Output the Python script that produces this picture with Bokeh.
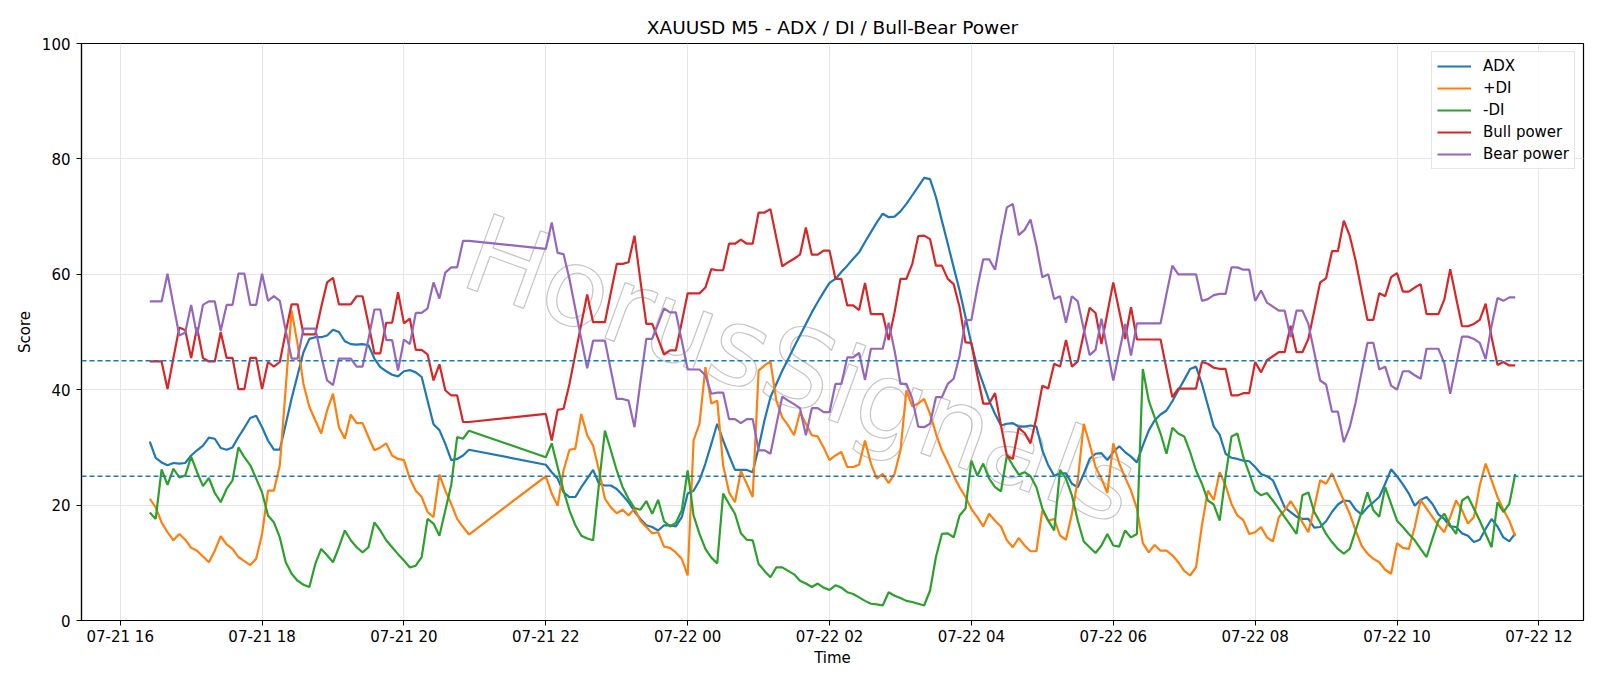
import pandas as pd
from bokeh.plotting import figure
from bokeh.models import (ColumnDataSource, Range1d, FixedTicker, DatetimeTickFormatter,
                          Span, Legend, LegendItem, Label)
from bokeh.embed import file_html
from bokeh.resources import INLINE

# 5-minute bars; the feed pauses between 20:55 and 22:00
session_1 = pd.date_range("2025-07-21 16:25", "2025-07-21 20:55", freq="5min")
session_2 = pd.date_range("2025-07-21 22:00", "2025-07-22 11:40", freq="5min")
time = session_1.append(session_2)

adx = [
    31.0, 28.2, 27.4, 26.9, 27.3, 27.2, 27.3, 28.6, 29.5, 30.3,
    31.7, 31.5, 29.9, 29.6, 30.0, 31.8, 33.4, 35.1, 35.5, 33.5,
    31.2, 29.6, 29.6, 34.0, 38.5, 42.5, 46.5, 48.8, 49.1, 49.1,
    49.4, 50.4, 50.0, 48.4, 47.9, 47.8, 47.9, 47.7, 45.4, 43.9,
    43.2, 42.6, 42.3, 43.2, 43.4, 43.0, 42.2, 38.1, 34.0, 33.0,
    30.6, 27.8, 28.0, 28.6, 29.6,
    27.0, 25.7, 24.6, 22.2, 21.4, 21.4, 23.1, 24.6, 26.1, 23.7,
    23.4, 23.4, 22.8, 21.7, 20.5, 18.9, 17.6, 16.5, 16.2, 15.6,
    16.5, 16.5, 16.3, 17.9, 22.0, 22.5, 24.3, 27.2, 30.6, 34.1,
    31.2, 28.6, 26.1, 26.1, 26.1, 25.7, 30.0, 34.7, 38.7, 41.0,
    43.3, 45.3, 47.4, 49.4, 51.4, 53.4, 55.2, 56.9, 58.5, 59.2,
    60.4, 61.5, 62.7, 63.8, 65.6, 67.3, 69.0, 70.5, 69.9, 70.0,
    70.9, 72.2, 73.7, 75.2, 76.7, 76.5, 73.4, 69.3, 65.3, 61.2,
    57.2, 52.6, 47.9, 43.9, 41.0, 38.1, 35.8, 33.8, 34.1, 34.2,
    33.6, 33.6, 33.8, 33.6, 29.5, 26.9, 25.1, 25.5, 25.5, 23.7,
    23.1, 25.4, 28.0, 28.9, 29.0, 27.8, 29.2, 30.2, 29.2, 28.4,
    27.4, 30.3, 32.9, 34.7, 35.7, 36.4, 38.0, 39.9, 41.7, 43.6,
    44.0, 41.0, 37.3, 33.6, 32.2, 28.9, 28.2, 28.0, 27.7, 27.6,
    26.6, 25.4, 25.0, 24.3, 22.0, 19.6, 18.8, 18.0, 17.6, 17.6,
    16.1, 16.2, 17.2, 18.8, 20.1, 20.8, 20.7, 19.2, 18.4, 19.6,
    20.5, 21.4, 23.7, 26.2, 25.0, 23.6, 22.0, 19.9, 20.9, 21.4,
    20.2, 18.4, 17.6, 16.3, 16.2, 15.1, 14.7, 13.6, 14.0, 15.9,
    17.6, 16.3, 14.4, 13.7, 15.1,
]

plus_di = [
    21.1, 19.6, 17.0, 15.3, 13.9, 15.0, 14.0, 12.6, 12.1, 11.1,
    10.1, 12.1, 14.6, 13.2, 12.4, 11.0, 10.3, 9.6, 10.7, 15.0,
    22.5, 22.5, 26.9, 40.3, 53.7, 47.9, 41.0, 37.0, 34.7, 32.4,
    36.4, 39.3, 33.5, 31.5, 35.7, 34.2, 34.2, 31.8, 29.5, 30.0,
    30.7, 28.6, 28.0, 27.8, 24.6, 22.5, 21.4, 18.8, 17.9, 25.3,
    22.5, 20.2, 17.6, 16.2, 14.9,
    25.0, 22.0, 19.9, 26.0, 29.6, 29.8, 35.8, 32.1, 30.3, 26.0,
    21.1, 19.6, 18.6, 19.2, 18.2, 19.4, 17.3, 16.2, 15.1, 15.3,
    12.8, 12.6, 11.8, 10.7, 7.8, 31.2, 34.1, 43.9, 37.6, 38.1,
    26.9, 22.2, 20.5, 25.9, 23.7, 21.4, 43.3, 44.2, 44.9, 38.1,
    35.2, 33.8, 32.1, 36.1, 34.1, 32.1, 31.9, 30.0, 27.8, 28.6,
    29.2, 26.6, 26.6, 27.0, 31.2, 27.2, 24.6, 25.4, 23.8, 25.4,
    29.5, 39.9, 37.1, 37.6, 38.4, 35.8, 32.4, 29.5, 27.4, 25.1,
    23.1, 21.4, 19.3, 17.9, 16.3, 18.5, 17.3, 16.3, 13.9, 12.7,
    14.3, 13.0, 12.0, 12.0, 19.1, 17.3, 17.6, 14.7, 14.0, 18.5,
    24.3, 34.1, 30.6, 26.6, 24.6, 22.1, 30.7, 27.2, 24.8, 22.5,
    19.4, 13.4, 11.8, 13.1, 12.1, 12.1, 11.3, 10.1, 8.6, 7.8,
    9.2, 16.5, 22.5, 20.9, 25.7, 23.4, 20.2, 18.2, 17.4, 15.0,
    15.3, 16.2, 14.4, 13.7, 17.9, 19.1, 20.7, 19.1, 17.0, 15.3,
    19.6, 24.3, 23.7, 25.5, 23.1, 20.8, 18.5, 15.6, 13.0, 11.6,
    10.7, 10.1, 8.8, 8.1, 13.4, 12.6, 12.4, 16.2, 20.9, 19.4,
    17.9, 16.5, 15.3, 17.9, 20.8, 19.1, 16.8, 17.9, 23.4, 27.2,
    24.3, 21.4, 19.2, 17.3, 14.6,
]

minus_di = [
    18.7, 17.6, 26.2, 23.5, 26.3, 24.8, 25.1, 28.4, 25.7, 23.3,
    24.7, 22.1, 20.5, 22.8, 24.3, 30.0, 28.3, 26.9, 24.6, 22.2,
    18.2, 17.0, 14.4, 10.1, 8.1, 6.9, 6.2, 5.8, 9.8, 12.4,
    11.3, 10.1, 12.7, 15.6, 13.9, 12.7, 11.8, 12.7, 17.0, 15.6,
    13.9, 12.7, 11.5, 10.4, 9.2, 9.5, 11.0, 17.6, 16.8, 14.7,
    19.1, 23.5, 31.8, 31.5, 32.9,
    28.3, 30.7, 26.6, 22.5, 19.1, 16.5, 14.7, 14.2, 13.9, 23.7,
    32.9, 29.5, 26.0, 23.1, 21.1, 19.5, 19.2, 20.7, 18.5, 20.9,
    17.2, 16.3, 16.9, 19.1, 26.0, 18.2, 15.0, 12.4, 10.9, 9.9,
    22.0, 20.2, 18.5, 15.1, 14.0, 13.9, 9.8, 8.6, 7.5, 9.2,
    9.2, 8.6, 8.0, 6.9, 6.4, 5.8, 6.4, 5.7, 5.3, 6.1,
    5.7, 4.9, 4.6, 4.0, 3.4, 2.9, 2.8, 2.6, 4.9, 4.3,
    3.9, 3.4, 3.2, 2.9, 2.6, 5.2, 11.0, 15.0, 15.1, 14.4,
    18.2, 19.4, 27.7, 25.1, 27.2, 24.6, 23.1, 22.4, 28.6, 26.9,
    25.3, 25.7, 25.0, 23.1, 19.4, 17.3, 15.6, 26.1, 24.6, 21.7,
    17.3, 13.7, 12.7, 11.7, 13.0, 15.0, 13.0, 12.8, 15.6, 14.4,
    15.0, 43.6, 38.1, 35.2, 32.4, 28.9, 33.4, 32.4, 31.9, 29.2,
    26.0, 23.7, 20.8, 20.1, 17.3, 25.0, 31.9, 32.4, 28.3, 25.5,
    22.5, 21.7, 22.1, 20.8, 19.4, 17.9, 16.5, 15.0, 21.7, 22.2,
    18.8, 17.0, 15.0, 13.6, 12.4, 11.6, 12.4, 15.6, 18.8, 22.2,
    19.1, 18.0, 23.1, 20.2, 17.3, 16.2, 15.0, 13.9, 12.4, 11.0,
    14.2, 17.3, 18.5, 16.5, 15.0, 20.8, 21.5, 19.4, 17.3, 15.0,
    12.7, 20.5, 18.8, 20.2, 25.4,
]

bull_power = [
    44.9, 44.9, 44.9, 40.1, 45.5, 50.8, 50.3, 45.5, 50.8, 45.5,
    44.9, 44.9, 50.0, 45.5, 45.5, 40.1, 40.1, 45.5, 45.5, 40.1,
    44.8, 44.0, 44.8, 50.0, 54.8, 54.8, 49.6, 49.6, 49.6, 54.3,
    58.6, 59.4, 54.8, 54.8, 54.8, 56.2, 56.2, 51.4, 46.3, 46.3,
    51.6, 51.6, 56.9, 51.5, 52.3, 46.9, 46.9, 46.1, 41.6, 44.4,
    39.9, 39.0, 39.0, 34.4, 34.4,
    35.8, 31.2, 36.5, 36.7, 41.0, 46.2, 51.4, 56.5, 51.7, 51.7,
    51.7, 56.8, 61.8, 61.8, 62.1, 66.7, 58.9, 51.4, 51.4, 48.8,
    46.1, 46.8, 46.8, 51.7, 56.7, 56.7, 56.7, 57.7, 60.9, 60.7,
    60.7, 65.3, 65.3, 66.0, 65.3, 65.3, 70.7, 70.7, 71.3, 66.3,
    61.4, 62.1, 62.7, 63.4, 68.1, 63.4, 63.4, 64.1, 64.1, 59.2,
    59.2, 54.6, 54.6, 53.8, 58.5, 53.1, 53.1, 53.1, 48.6, 53.4,
    59.2, 59.2, 61.8, 66.6, 66.7, 66.1, 61.5, 61.5, 59.2, 58.3,
    54.3, 48.2, 48.1, 42.5, 37.6, 37.6, 39.4, 33.8, 28.6, 28.0,
    33.4, 32.5, 30.7, 35.2, 40.7, 40.2, 44.5, 44.0, 48.6, 44.0,
    44.9, 49.7, 54.2, 53.3, 47.9, 53.3, 58.6, 53.7, 48.8, 54.3,
    48.7, 48.7, 48.7, 48.7, 48.7, 43.6, 38.7, 40.2, 40.2, 40.2,
    40.2, 44.8, 44.5, 43.8, 43.6, 43.6, 39.0, 39.0, 39.4, 39.4,
    44.8, 43.0, 45.1, 45.8, 46.5, 46.5, 51.1, 46.5, 46.5, 48.8,
    53.7, 58.6, 59.3, 64.0, 64.0, 69.3, 66.7, 62.4, 57.2, 52.1,
    52.1, 56.7, 56.2, 59.5, 60.2, 57.0, 57.0, 57.7, 58.3, 53.1,
    53.1, 53.1, 55.6, 60.9, 55.9, 51.0, 51.0, 51.4, 52.1, 54.9,
    49.1, 44.3, 44.8, 44.2, 44.2,
]

bear_power = [
    55.3, 55.3, 55.3, 60.1, 54.7, 49.4, 49.9, 54.7, 49.4, 54.7,
    55.3, 55.3, 50.2, 54.7, 54.7, 60.1, 60.1, 54.7, 54.7, 60.1,
    55.4, 56.2, 55.4, 50.2, 45.4, 45.4, 50.6, 50.6, 50.6, 45.9,
    41.6, 40.8, 45.4, 45.4, 45.4, 44.0, 44.0, 48.8, 53.9, 53.9,
    48.6, 48.6, 43.3, 48.7, 47.9, 53.3, 53.3, 54.1, 58.6, 55.8,
    60.3, 61.2, 61.2, 65.8, 65.8,
    64.4, 69.0, 63.7, 63.5, 59.2, 54.0, 48.8, 43.7, 48.5, 48.5,
    48.5, 43.4, 38.4, 38.4, 38.1, 33.5, 41.3, 48.8, 48.8, 51.4,
    54.1, 53.4, 53.4, 48.5, 43.5, 43.5, 43.5, 42.5, 39.3, 39.5,
    39.5, 34.9, 34.9, 34.2, 34.9, 34.9, 29.5, 29.5, 28.9, 33.9,
    38.8, 38.1, 37.5, 36.8, 32.1, 36.8, 36.8, 36.1, 36.1, 41.0,
    41.0, 45.6, 45.6, 46.4, 41.7, 47.1, 47.1, 47.1, 51.6, 46.8,
    41.0, 41.0, 38.4, 33.6, 33.5, 34.1, 38.7, 38.7, 41.0, 41.9,
    45.9, 52.0, 52.1, 57.7, 62.6, 62.6, 60.8, 66.4, 71.6, 72.2,
    66.8, 67.7, 69.5, 65.0, 59.5, 60.0, 55.7, 56.2, 51.6, 56.2,
    55.3, 50.5, 46.0, 46.9, 52.3, 46.9, 41.6, 46.5, 51.4, 45.9,
    51.5, 51.5, 51.5, 51.5, 51.5, 56.6, 61.5, 60.0, 60.0, 60.0,
    60.0, 55.4, 55.7, 56.4, 56.6, 56.6, 61.2, 61.2, 60.8, 60.8,
    55.4, 57.2, 55.1, 54.4, 53.7, 53.7, 49.1, 53.7, 53.7, 51.4,
    46.5, 41.6, 40.9, 36.2, 36.2, 30.9, 33.5, 37.8, 43.0, 48.1,
    48.1, 43.5, 44.0, 40.7, 40.0, 43.2, 43.2, 42.5, 41.9, 47.1,
    47.1, 47.1, 44.6, 39.3, 44.3, 49.2, 49.2, 48.8, 48.1, 45.3,
    51.1, 55.9, 55.4, 56.0, 56.0,
]

threshold_levels = [45, 25]
x_tick_times = pd.date_range("2025-07-21 16:00", "2025-07-22 12:00", freq="2h")
y_tick_values = [0, 20, 40, 60, 80, 100]

series = [
    ("ADX", "adx", adx, "#1f77b4"),
    ("+DI", "plus_di", plus_di, "#ff7f0e"),
    ("-DI", "minus_di", minus_di, "#2ca02c"),
    ("Bull power", "bull", bull_power, "#d62728"),
    ("Bear power", "bear", bear_power, "#9467bd"),
]


def ms(ts):
    return pd.Timestamp(ts).value / 1e6


source = ColumnDataSource(dict(time=time, **{key: vals for _, key, vals, _ in series}))

span = time[-1] - time[0]
pad = span * 0.05

FONT = "DejaVu Sans"

p = figure(
    width=1600, height=686,
    x_axis_type="datetime",
    x_range=Range1d(ms(time[0] - pad), ms(time[-1] + pad)),
    y_range=Range1d(0, 100),
    output_backend="svg", toolbar_location=None,
    min_border_left=81, min_border_right=17, min_border_top=43, min_border_bottom=66,
    background_fill_color="white", border_fill_color="white",
)

p.title.text = "XAUUSD M5 - ADX / DI / Bull-Bear Power"
p.title.align = "center"
p.title.text_font = FONT
p.title.text_font_size = "18.5px"
p.title.text_font_style = "normal"
p.title.text_color = "black"
p.title.standoff = 12

p.outline_line_color = "black"
p.outline_line_width = 1.2

p.xaxis.ticker = FixedTicker(ticks=[ms(t) for t in x_tick_times])
fmt = "%m-%d %H"
p.xaxis.formatter = DatetimeTickFormatter(
    hours=fmt, hourmin=fmt, days=fmt, minutes=fmt, minsec=fmt, months=fmt)
p.yaxis.ticker = FixedTicker(ticks=y_tick_values)

p.xaxis.axis_label = "Time"
p.yaxis.axis_label = "Score"
for ax in (p.xaxis, p.yaxis):
    ax.axis_line_color = "black"
    ax.axis_line_width = 1.2
    ax.major_tick_line_color = "black"
    ax.major_tick_out = 5
    ax.major_tick_in = 0
    ax.minor_tick_line_color = None
    ax.major_label_text_font = FONT
    ax.major_label_text_font_size = "15px"
    ax.major_label_text_color = "black"
    ax.axis_label_text_font = FONT
    ax.axis_label_text_font_size = "15px"
    ax.axis_label_text_font_style = "normal"
    ax.axis_label_text_color = "black"
p.xaxis.major_label_standoff = 2
p.xaxis.axis_label_standoff = 0
p.yaxis.major_label_standoff = 6
p.yaxis.axis_label_standoff = 5

p.xgrid.grid_line_color = "#e6e6e6"
p.ygrid.grid_line_color = "#e6e6e6"
p.xgrid.grid_line_width = 1
p.ygrid.grid_line_width = 1

# brand watermark across the middle of the panel, beneath the lines
watermark = Label(
    x=ms("2025-07-22 01:36"), y=43.5, text="HorusSignals",
    angle=-20, angle_units="deg", text_align="center", text_baseline="middle",
    text_font=FONT, text_font_size="108px", text_color="white", text_alpha=0.5,
    text_outline_color="#8c8c8c", level="underlay",
)
if "text_outline_width" in Label.properties():
    watermark.text_outline_width = 2
p.add_layout(watermark)

items = []
for label, key, _, color in series:
    r = p.line(x="time", y=key, source=source, line_color=color, line_width=2.2)
    items.append(LegendItem(label=label, renderers=[r]))

for level in threshold_levels:
    p.add_layout(Span(location=level, dimension="width", line_color="#1f77b4",
                      line_dash="5 3", line_width=1.5))

legend = Legend(items=items, location="top_right")
legend.label_text_font = FONT
legend.label_text_font_size = "15px"
legend.label_text_color = "black"
legend.glyph_width = 34
legend.glyph_height = 14
legend.label_height = 14
legend.label_standoff = 12
legend.spacing = 4
legend.padding = 5
legend.margin = 8
legend.border_line_color = "#cccccc"
legend.border_line_width = 1
legend.background_fill_alpha = 0.85
p.add_layout(legend)

open("out.html", "w").write(file_html(p, INLINE))
